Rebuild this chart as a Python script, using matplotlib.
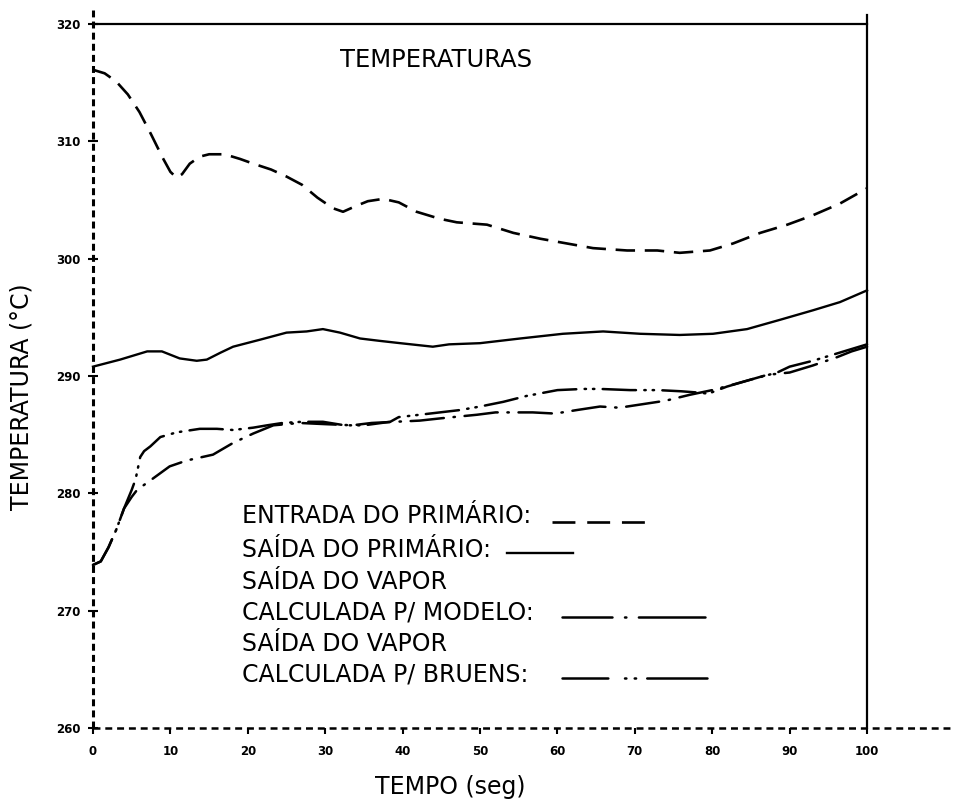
import matplotlib
matplotlib.use('Agg')
import matplotlib.pyplot as plt

plt.rcParams['font.family'] = ['DejaVu Sans']
plt.rcParams['lines.scale_dashes'] = False

# ---- data ----
ent_x = [0, 1.5, 3, 4.5, 6, 7.5, 9, 10, 10.8, 11.5, 12.5, 13.8, 15, 17, 19, 20.7, 23,
         25, 27, 29, 31, 32.3, 34, 35.5, 37.5, 39.5, 41.8, 44.8, 47, 50.9, 54.3, 57.8,
         61.2, 64.6, 69, 72.9, 75.8, 79.7, 82.7, 86.2, 89.7, 93, 96.5, 100]
ent_y = [316.1, 315.8, 315.1, 314.0, 312.5, 310.6, 308.6, 307.4, 306.9, 307.2, 308.1,
         308.7, 308.9, 308.9, 308.5, 308.1, 307.6, 307.0, 306.3, 305.2, 304.3, 304.0,
         304.5, 304.9, 305.1, 304.8, 304.0, 303.4, 303.1, 302.9, 302.2, 301.7, 301.3,
         300.9, 300.7, 300.7, 300.5, 300.7, 301.3, 302.2, 302.9, 303.7, 304.7, 306.0]

sai_x = [0, 3.5, 7, 8.9, 11.2, 13.4, 14.7, 16.5, 18.1, 21.6, 25, 27.6, 29.7, 31.9, 34.5,
         37, 39.7, 43.9, 46, 50, 55.2, 60.7, 65.9, 70.7, 75.8, 80.1, 84.5, 88.8, 93,
         96.5, 100]
sai_y = [290.8, 291.4, 292.1, 292.1, 291.5, 291.3, 291.4, 292.0, 292.5, 293.1, 293.7,
         293.8, 294.0, 293.7, 293.2, 293.0, 292.8, 292.5, 292.7, 292.8, 293.2, 293.6,
         293.8, 293.6, 293.5, 293.6, 294.0, 294.8, 295.6, 296.3, 297.3]

mod_x = [0, 1, 2, 3, 4, 5, 5.7, 7.4, 9.9, 12.1, 15.5, 18.1, 20.7, 23.3, 26.7, 30, 33.5,
         36, 39, 42.2, 45, 49.6, 52, 56.8, 59.7, 62.5, 65.5, 68, 71, 74, 77.1, 80, 82.3,
         85, 87.1, 90, 93, 96.1, 98, 100]
mod_y = [273.9, 274.2, 275.4, 276.9, 278.7, 279.7, 280.3, 281.1, 282.3, 282.8, 283.3,
         284.3, 285.1, 285.8, 286.0, 285.9, 285.8, 286.0, 286.1, 286.2, 286.4, 286.7,
         286.9, 286.9, 286.8, 287.1, 287.4, 287.3, 287.6, 287.9, 288.4, 288.8, 289.2,
         289.7, 290.1, 290.3, 290.9, 291.6, 292.1, 292.5]

bru_x = [0, 1, 2, 3, 4, 5, 5.5, 6.1, 6.6, 7.4, 8.7, 10.8, 13.8, 16, 18.1, 20.7, 22.5,
         24.5, 27, 29.7, 32.5, 35, 38.4, 39.5, 42.2, 44.8, 47.4, 50, 53, 56, 60, 63.3,
         65.5, 69.4, 73, 76, 78, 79.5, 81.9, 85, 88.4, 90, 93, 96, 98, 100]
bru_y = [273.9, 274.2, 275.4, 276.9, 278.7, 280.3, 281.2, 283.1, 283.6, 284.0, 284.8,
         285.2, 285.5, 285.5, 285.4, 285.6, 285.8, 286.0, 286.1, 286.1, 285.8, 285.8,
         286.1, 286.5, 286.7, 286.9, 287.1, 287.4, 287.8, 288.3, 288.8, 288.9, 288.9,
         288.8, 288.8, 288.7, 288.6, 288.5, 289.1, 289.7, 290.3, 290.8, 291.3, 291.9,
         292.3, 292.7]

x_ticks = [0, 10, 20, 30, 40, 50, 60, 70, 80, 90, 100]
y_ticks = [260, 270, 280, 290, 300, 310, 320]

title = "TEMPERATURAS"
xlabel = "TEMPO (seg)"
ylabel = "TEMPERATURA (°C)"
legend_labels = ["ENTRADA DO PRIMÁRIO:", "SAÍDA DO PRIMÁRIO:", "SAÍDA DO VAPOR",
                 "CALCULADA P/ MODELO:", "SAÍDA DO VAPOR", "CALCULADA P/ BRUENS:"]

# ---- figure ----
fig = plt.figure(figsize=(9.55, 8.01), dpi=100)
ax = fig.add_axes([0.0974, 0.0911, 0.8105, 0.8789])
ax.set_xlim(0, 100)
ax.set_ylim(260, 320)
for s in ax.spines.values():
    s.set_visible(False)

# frame
ax.plot([0, 0], [260, 321.2], color='k', lw=2.2, dashes=(5, 3), clip_on=False)
ax.plot([0, 111.5], [260, 260], color='k', lw=1.8, dashes=(5, 3.5), clip_on=False)
ax.plot([100, 100], [260, 320.8], color='k', lw=1.6, clip_on=False)
ax.plot([0, 100], [320, 320], color='k', lw=1.6, clip_on=False)

# curves
ax.plot(ent_x, ent_y, color='k', lw=1.9, dashes=(14, 7), clip_on=False,
        solid_joinstyle='round')
ax.plot(sai_x, sai_y, color='k', lw=1.7, clip_on=False, solid_joinstyle='round')
ax.plot(mod_x, mod_y, color='k', lw=1.8, dashes=(24, 7, 1.0, 7), clip_on=False,
        dash_capstyle='round')
ax.plot(bru_x, bru_y, color='k', lw=1.8, dashes=(24, 6, 1.0, 5, 1.0, 6), clip_on=False,
        dash_capstyle='round')

# ticks
ax.set_xticks(x_ticks)
ax.set_yticks(y_ticks)
ax.tick_params(axis='y', direction='inout', length=7, width=1.5, pad=5.5, labelsize=8.5)
ax.tick_params(axis='x', direction='out', length=4, width=1.5, pad=8, labelsize=8.5)
for lab in ax.get_xticklabels() + ax.get_yticklabels():
    lab.set_fontweight('bold')

# labels
ax.text(44.3, 316.9, title, fontsize=17.5, ha='center', va='center')
fig.text(450 / 955, 1 - 787 / 801, xlabel, fontsize=17, ha='center', va='center')
fig.text(22 / 955, 1 - 397 / 801, ylabel, fontsize=17, ha='center', va='center',
         rotation=90)

# legend block
leg_y = [278.05, 275.16, 272.43, 269.87, 267.15, 264.6]
for lab, yy in zip(legend_labels, leg_y):
    ax.text(19.25, yy, lab, fontsize=17, ha='left', va='center')

ax.plot([59.3, 71.3], [277.6, 277.6], color='k', lw=1.9, dashes=(16.5, 8.5))
ax.plot([53.5, 62.0], [274.9, 274.9], color='k', lw=1.7)
ax.plot([60.6, 79.1], [269.5, 269.5], color='k', lw=1.8,
        dashes=(36, 9, 1.0, 9, 200, 1), dash_capstyle='round')
ax.plot([60.6, 79.3], [264.3, 264.3], color='k', lw=1.8,
        dashes=(33, 12, 1.0, 6, 1.0, 8, 200, 1), dash_capstyle='round')

fig.savefig('out.png', dpi=100)
